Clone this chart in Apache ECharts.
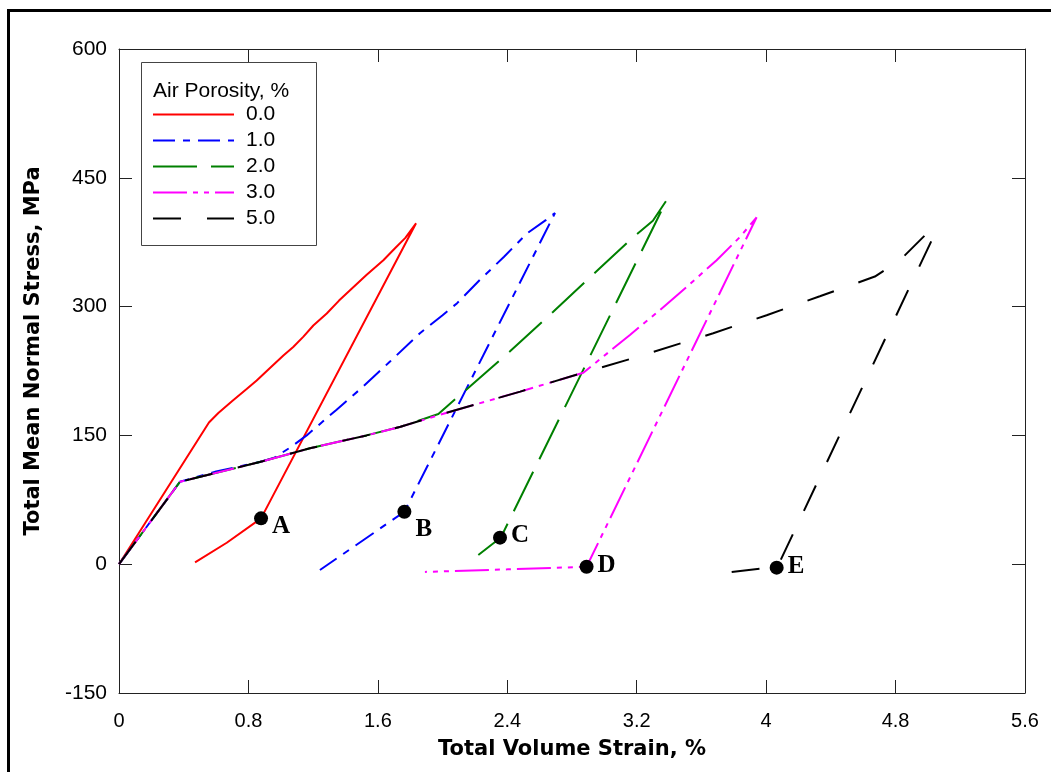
<!DOCTYPE html>
<html>
<head>
<meta charset="utf-8">
<script src="https://cdn.jsdelivr.net/npm/echarts@6/dist/echarts.min.js"></script>
<style>
html,body{margin:0;padding:0;background:#fff;}
#chart{width:1051px;height:772px;}
</style>
</head>
<body>
<div id="chart"></div>
<script>
// ---- data (strain %, stress MPa) ----
const seriesNames = ['0.0', '1.0', '2.0', '3.0', '5.0'];
const xTicks = [0, 0.8, 1.6, 2.4, 3.2, 4, 4.8, 5.6];
const yTicks = [-150, 0, 150, 300, 450, 600];

const air0 = [[0,0],[0.556,165],[0.614,176],[0.70,190],[0.789,204],[0.851,214],[0.93,228],[1.016,243],[1.077,253],[1.14,265],[1.201,278],[1.284,292],[1.36,307],[1.428,319],[1.531,337],[1.634,354],[1.706,368],[1.77,380],[1.836,397],[0.878,53.4],[0.666,25],[0.47,2.2]];
const air1 = [[0,0],[0.377,96],[0.60,108],[0.87,119],[0.96,124],[1.067,137],[1.16,150],[1.345,180],[1.51,207],[1.675,236],[1.86,269],[2.0,290],[2.09,304],[2.23,331],[2.38,358],[2.52,385],[2.64,401],[2.695,409],[1.764,61.1],[1.242,-6.8]];
const air2 = [[0,0],[0.377,96],[0.87,119],[1.18,135],[1.53,150],[1.74,160],[1.974,175],[2.169,207],[2.417,248],[2.684,294],[2.973,345],[3.179,381],[3.30,400],[3.385,424],[2.36,31],[2.221,10.7]];
const air3 = [[0,0],[0.377,96],[0.87,119],[1.18,135],[1.53,150],[1.74,160],[2.0,175],[2.48,201],[2.87,223],[3.158,267],[3.344,296],[3.509,323],[3.694,354],[3.838,381],[3.941,404],[2.89,-3],[2.4,-6],[1.891,-9]];
const air5 = [[0,0],[0.377,96],[0.87,119],[1.18,135],[1.53,150],[1.74,160],[2.0,175],[2.48,201],[2.87,223],[3.179,240],[3.673,269],[4.003,290],[4.332,312],[4.672,335],[4.827,354],[4.992,385],[5.053,389],[4.07,-3],[3.787,-9]];

const markerLabels = ['A', 'B', 'C', 'D', 'E'];
const markerPoints = [[0.878,53.4],[1.764,61.1],[2.355,30.9],[2.89,-3],[4.065,-4]];
const markerLabelShift = [8, 18, -2, -1, -1];

const colors = ['#ff0000', '#0000ff', '#008000', '#ff00ff', '#000000'];
const dashes = ['solid', [22,8,7,8], [44,14], [34,6,5,6,5,6], [28,26]];
const dataSets = [air0, air1, air2, air3, air5];

const chart = echarts.init(document.getElementById('chart'), null, {renderer: 'canvas'});

const lineSeries = dataSets.map((d, i) => ({
  name: seriesNames[i],
  type: 'line',
  data: d,
  symbol: 'none',
  showSymbol: false,
  smooth: false,
  animation: false,
  color: colors[i],
  lineStyle: {color: colors[i], width: 2, type: dashes[i]},
  z: 2 + i
}));

const markerSeries = {
  name: 'points',
  type: 'scatter',
  symbol: 'circle',
  symbolSize: 14,
  itemStyle: {color: '#000', opacity: 1},
  z: 20,
  animation: false,
  data: markerPoints.map((p, i) => ({
    value: p,
    label: {
      show: true,
      formatter: markerLabels[i],
      position: 'right',
      distance: 4,
      offset: [0, markerLabelShift[i]],
      fontFamily: 'Liberation Serif',
      fontWeight: 'bold',
      fontSize: 25,
      color: '#000',
      opacity: 1
    }
  }))
};

const axisCommonX = {
  type: 'value', min: 0, max: 5.6, interval: 0.8,
  axisLine: {show: true, onZero: false, lineStyle: {color: '#222', width: 1}},
  axisTick: {show: true, inside: true, length: 13, lineStyle: {color: '#222'}},
  splitLine: {show: false}
};
const axisCommonY = {
  type: 'value', min: -150, max: 600, interval: 150,
  axisLine: {show: true, onZero: false, lineStyle: {color: '#222', width: 1}},
  axisTick: {show: true, inside: true, length: 13, lineStyle: {color: '#222'}},
  splitLine: {show: false}
};

chart.setOption({
  backgroundColor: '#fff',
  animation: false,
  grid: {left: 119, right: 26, top: 49, bottom: 79, containLabel: false},
  xAxis: [
    Object.assign({}, axisCommonX, {
      position: 'bottom',
      axisLabel: {show: true, margin: 18, fontSize: 20, fontFamily: 'Liberation Sans', color: '#000',
        formatter: v => String(Math.round(v * 10) / 10)}
    }),
    Object.assign({}, axisCommonX, {position: 'top', axisLabel: {show: false}})
  ],
  yAxis: [
    Object.assign({}, axisCommonY, {
      position: 'left',
      axisLabel: {show: true, margin: 12, fontSize: 21, fontFamily: 'Liberation Sans', color: '#000'}
    }),
    Object.assign({}, axisCommonY, {position: 'right', axisLabel: {show: false}})
  ],
  legend: {
    show: true,
    data: seriesNames,
    orient: 'vertical',
    left: 152,
    top: 104,
    itemWidth: 81,
    itemHeight: 14,
    itemGap: 5,
    padding: 0,
    itemStyle: {opacity: 0, borderWidth: 0},
    lineStyle: {width: 2, opacity: 1},
    textStyle: {fontSize: 21, lineHeight: 21, fontFamily: 'Liberation Sans', color: '#000', padding: [0, 0, 0, 7]},
    selectedMode: false
  },
  graphic: [
    {type: 'rect', shape: {x: 8.5, y: 10.5, width: 2000, height: 2000}, style: {fill: 'none', stroke: '#000', lineWidth: 3}, silent: true},
    {type: 'rect', shape: {x: 141.5, y: 62.5, width: 175, height: 183}, style: {fill: '#fff', stroke: '#444', lineWidth: 1}, z: 0, silent: true},
    {type: 'text', x: 153, y: 91, style: {text: 'Air Porosity, %', font: '21px "Liberation Sans"', fill: '#000', textVerticalAlign: 'middle', textAlign: 'left'}, silent: true},
    {type: 'text', x: 572, y: 750, style: {text: 'Total Volume Strain, %', font: 'bold 21px "DejaVu Sans"', fill: '#000', textVerticalAlign: 'middle', textAlign: 'center'}, silent: true},
    {type: 'text', x: 34, y: 351, rotation: Math.PI / 2, style: {text: 'Total Mean Normal Stress, MPa', font: 'bold 21px "DejaVu Sans"', fill: '#000', textVerticalAlign: 'middle', textAlign: 'center'}, silent: true}
  ],
  series: lineSeries.concat([markerSeries])
});
</script>
</body>
</html>
